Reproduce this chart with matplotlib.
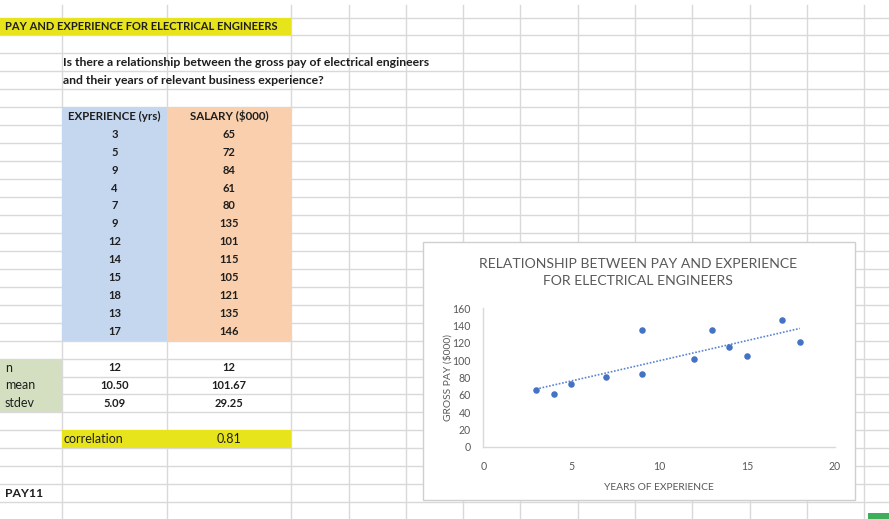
import numpy as np
import matplotlib.pyplot as plt
from matplotlib.patches import Rectangle

# worksheet data
experience = [3, 5, 9, 4, 7, 9, 12, 14, 15, 18, 13, 17]
salary = [65, 72, 84, 61, 80, 135, 101, 115, 105, 121, 135, 146]

sheet_title = "PAY AND EXPERIENCE FOR ELECTRICAL ENGINEERS"
question = ["Is there a relationship between the gross pay of electrical engineers",
            "and their years of relevant business experience?"]
headers = ["EXPERIENCE (yrs)", "SALARY ($000)"]
chart_title = "RELATIONSHIP BETWEEN PAY AND EXPERIENCE\nFOR ELECTRICAL ENGINEERS"
x_ticks = [0, 5, 10, 15, 20]
y_ticks = [0, 20, 40, 60, 80, 100, 120, 140, 160]

W, H = 889, 519
FONT = "Lato"
INK = "#1e1e1e"
GRID = "#d9d9d9"
GREY = "#595959"

# sheet geometry in pixels
col_edges = [0, 62, 167, 291, 348.5, 406, 463, 520.3, 577.6, 634.9, 692.2, 749.5, 806.8, 864.1, 921]
row_top = 17.5
row_h = 17.95
n_rows = 28


def row_y(i):
    # top edge of sheet row i (row 0 holds the title)
    return row_top + i * row_h


def row_mid(i):
    return row_y(i) + row_h / 2


def col_mid(j):
    return (col_edges[j] + col_edges[j + 1]) / 2


fig = plt.figure(figsize=(W / 100, H / 100), dpi=100)
sheet = fig.add_axes([0, 0, 1, 1])
sheet.set_xlim(0, W)
sheet.set_ylim(H, 0)
sheet.axis("off")

# gridlines
for i in range(n_rows + 1):
    sheet.plot([0, W], [row_y(i), row_y(i)], color=GRID, lw=1, zorder=1)
for x in col_edges[1:]:
    sheet.plot([x, x], [5, H], color=GRID, lw=1, zorder=1)

# cell fills
def fill(c0, c1, r0, r1, color):
    sheet.add_patch(Rectangle((col_edges[c0], row_y(r0)), col_edges[c1] - col_edges[c0],
                              row_y(r1) - row_y(r0), facecolor=color, edgecolor="none", zorder=2))

fill(0, 3, 0, 1, "#e8e41c")        # title
fill(1, 2, 5, 18, "#c5d7ef")       # experience column
fill(2, 3, 5, 18, "#f9cfad")       # salary column
fill(0, 1, 19, 22, "#d3dfc0")      # stat labels
fill(1, 3, 23, 24, "#e8e41c")      # correlation

txt = dict(fontfamily=FONT, color=INK, va="center", zorder=3)
sheet.text(5, row_mid(0), sheet_title, fontsize=8.0, fontweight="bold", **txt)
sheet.text(63, row_mid(2), question[0], fontsize=8.8, fontweight="bold", **txt)
sheet.text(63, row_mid(3), question[1], fontsize=8.8, fontweight="bold", **txt)

sheet.text(col_mid(1), row_mid(5), headers[0], fontsize=8.3, fontweight="bold", ha="center", **txt)
sheet.text(col_mid(2), row_mid(5), headers[1], fontsize=8.3, fontweight="bold", ha="center", **txt)
for k, (xv, yv) in enumerate(zip(experience, salary)):
    sheet.text(col_mid(1), row_mid(6 + k), str(xv), fontsize=8.0, fontweight="bold", ha="center", **txt)
    sheet.text(col_mid(2), row_mid(6 + k), str(yv), fontsize=8.0, fontweight="bold", ha="center", **txt)

# summary statistics
xs = np.array(experience, dtype=float)
ys = np.array(salary, dtype=float)
stats = [("n", str(len(xs)), str(len(ys))),
         ("mean", f"{xs.mean():.2f}", f"{ys.mean():.2f}"),
         ("stdev", f"{xs.std(ddof=1):.2f}", f"{ys.std(ddof=1):.2f}")]
for k, (name, a, b) in enumerate(stats):
    r = 19 + k
    sheet.text(5, row_mid(r), name, fontsize=9.0, **txt)
    sheet.text(col_mid(1), row_mid(r), a, fontsize=8.0, fontweight="bold", ha="center", **txt)
    sheet.text(col_mid(2), row_mid(r), b, fontsize=8.0, fontweight="bold", ha="center", **txt)

corr = np.corrcoef(xs, ys)[0, 1]
sheet.text(64, row_mid(23), "correlation", fontsize=9.0, **txt)
sheet.text(col_mid(2), row_mid(23), f"{corr:.2f}", fontsize=9.0, ha="center", **txt)
sheet.text(5, row_mid(26), "PAY11", fontsize=8.8, fontweight="bold", **txt)

sheet.add_patch(Rectangle((868, 513), 21, 6, facecolor="#3fae5a", edgecolor="none", zorder=2))

# chart box
sheet.add_patch(Rectangle((423, 242), 432, 258, facecolor="white", edgecolor="#cfcfcf", lw=1, zorder=4))
sheet.text(638, 272.5, chart_title, fontsize=10.1, fontfamily=FONT, color=GREY,
           ha="center", va="center", linespacing=1.5, zorder=5)

# scatter chart
ax = fig.add_axes([483.3 / W, 1 - 446.7 / H, (835 - 483.3) / W, (446.7 - 308.3) / H])
ax.set_facecolor("none")
ax.scatter(experience, salary, s=22, color="#4472c4", zorder=3, linewidths=0)
slope, icpt = np.polyfit(xs, ys, 1)
tx = np.array([xs.min(), xs.max()])
ax.plot(tx, slope * tx + icpt, color="#5b85cf", lw=1.2, ls=(0, (1, 1)), zorder=2)

ax.set_xlim(0, 20)
ax.set_ylim(0, 160)
ax.set_xticks(x_ticks)
ax.set_yticks(y_ticks)
for s in ["top", "right"]:
    ax.spines[s].set_visible(False)
for s in ["left", "bottom"]:
    ax.spines[s].set_color("#d9d9d9")
    ax.spines[s].set_linewidth(1)
ax.tick_params(axis="y", length=0, labelsize=7.6, labelcolor=GREY, pad=9)
ax.tick_params(axis="x", length=0, labelsize=7.6, labelcolor=GREY, pad=10)
for lab in ax.get_xticklabels() + ax.get_yticklabels():
    lab.set_fontfamily(FONT)
ax.set_xlabel("YEARS OF EXPERIENCE", fontsize=7.4, fontfamily=FONT, color=GREY, labelpad=8)
ax.set_ylabel("GROSS PAY ($000)", fontsize=7.4, fontfamily=FONT, color=GREY, labelpad=0)

fig.savefig("out.png", dpi=100)
